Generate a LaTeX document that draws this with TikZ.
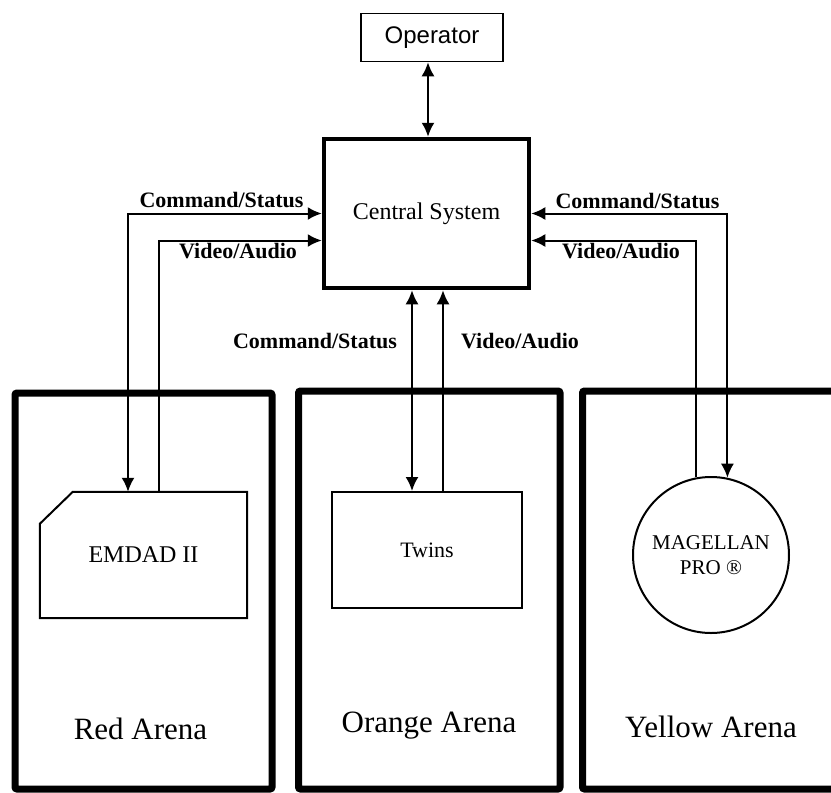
\documentclass[tikz,border=0pt]{standalone}
\usepackage{fontspec}
\setmainfont{Liberation Serif}
\newfontfamily\opfont{Liberation Sans}
\usetikzlibrary{arrows.meta}

\tikzset{
  arena/.style={line width=7pt, rounded corners=2pt},
  unitbox/.style={draw, line width=2pt, inner sep=0pt},
  link/.style={line width=2pt, -{Latex[length=14pt,width=13pt]}},
  dbllink/.style={line width=2pt, {Latex[length=14pt,width=13pt]}-{Latex[length=14pt,width=13pt]}},
  chanlabel/.style={font=\bfseries\fontsize{22}{26}\selectfont, anchor=base},
  arenalabel/.style={font=\fontsize{31}{36}\selectfont, anchor=base},
}

\begin{document}
\begin{tikzpicture}[x=1pt,y=-1pt]
    \useasboundingbox (0,0) rectangle (831,793);
    \clip (0,0) rectangle (831,793);

    \draw[arena] (15,393) rectangle (272,789);
    \draw[arena] (298.5,391) rectangle (560,789);
    \draw[arena] (845,391) -| (582.5,789) -- (845,789);

    \node[arenalabel] (redlbl) at (140.5,739) {Red Arena};
    \node[arenalabel] (orangelbl) at (429,732) {Orange Arena};
    \node[arenalabel] (yellowlbl) at (711,737) {Yellow Arena};

    \node[draw, line width=1.5pt, minimum width=142pt, minimum height=48pt,
      font=\opfont\fontsize{24}{28}\selectfont] (operator) at (432,37.5) {Operator};
    \node[draw, line width=4.5pt, minimum width=205pt, minimum height=149pt,
      font=\fontsize{24}{28}\selectfont] (central) at (426.5,213.5) {Central System};

    \node[minimum width=207pt, minimum height=126pt,
      font=\fontsize{24}{28}\selectfont] (emdad) at (143.5,555) {EMDAD II};
    \draw[line width=2pt] ([yshift=-32pt]emdad.north west) -- ([xshift=33pt]emdad.north west)
      -- (emdad.north east) -- (emdad.south east) -- (emdad.south west) -- cycle;

    \node[unitbox, minimum width=190pt, minimum height=116pt,
      font=\fontsize{22}{26}\selectfont] (twins) at (427,550) {Twins};
    \node[unitbox, circle, minimum size=156pt, align=center,
      font=\fontsize{21}{25}\selectfont] (magellan) at (711,555) {MAGELLAN\\PRO ®};

    % links
    \draw[dbllink] ([xshift=-4pt]operator.south) -- ([xshift=-4pt]operator.south |- central.north);

    \draw[dbllink] (central.west) -| ([xshift=-15.5pt]emdad.north);
    \draw[link] ([xshift=15.5pt]emdad.north) |- ([yshift=-27pt]central.west);

    \draw[dbllink] ([xshift=-15pt]twins.north) -- ([xshift=-15pt]twins.north |- central.south);
    \draw[link] ([xshift=16pt]twins.north) -- ([xshift=16pt]twins.north |- central.south);

    \draw[dbllink] (central.east) -| (magellan.78.5);
    \draw[link] (magellan.101.5) |- ([yshift=-27pt]central.east);

    \node[chanlabel] (cmdleft) at (221.5,207) {Command/Status};
    \node[chanlabel] (vidleft) at (238,258) {Video/Audio};
    \node[chanlabel] (cmdright) at (637.5,208) {Command/Status};
    \node[chanlabel] (vidright) at (621,258) {Video/Audio};
    \node[chanlabel] (cmdmid) at (315,348) {Command/Status};
    \node[chanlabel] (vidmid) at (520,348) {Video/Audio};
\end{tikzpicture}
\end{document}
